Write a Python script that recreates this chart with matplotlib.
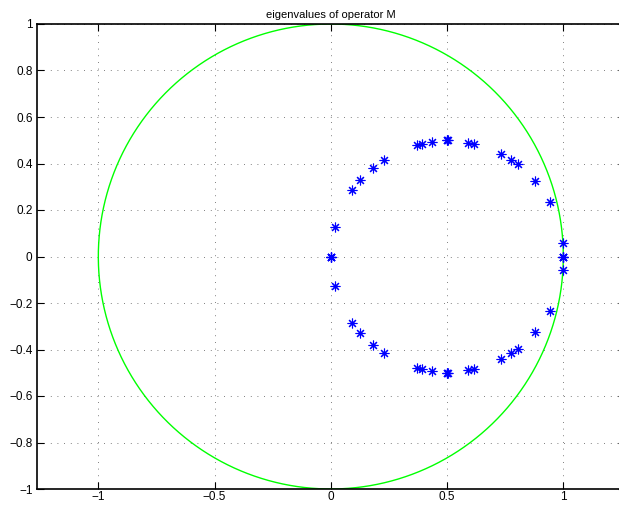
import numpy as np
import matplotlib
matplotlib.use("Agg")
import matplotlib.pyplot as plt

# eigenvalues (upper half; lower half is the conjugate)
eig_re_upper = [0.0, 0.0, 0.019, 0.093, 0.125, 0.181, 0.230, 0.371, 0.391, 0.434,
                0.498, 0.500, 0.502, 0.592, 0.615, 0.731, 0.773, 0.803, 0.879,
                0.941, 0.997, 1.0, 1.0]
eig_im_upper = [0.0, 0.0, 0.129, 0.288, 0.327, 0.381, 0.417, 0.480, 0.486, 0.493,
                0.499, 0.500, 0.499, 0.490, 0.484, 0.442, 0.417, 0.396, 0.325,
                0.235, 0.059, 0.0, 0.0]

title = "eigenvalues of operator M"
x_ticks = [-1, -0.5, 0, 0.5, 1]
y_ticks = [-1, -0.8, -0.6, -0.4, -0.2, 0, 0.2, 0.4, 0.6, 0.8, 1]

plt.rcParams["font.family"] = ["Liberation Sans", "DejaVu Sans"]
plt.rcParams["font.size"] = 8

fig = plt.figure(figsize=(6.19, 5.05), dpi=100)
# axes runs a little past the right edge of the picture, as in the original
xmin, xmax = -1.265, 1.265
unit = 232.5
ax = fig.add_axes([36.7 / 619, 16 / 505, (xmax - xmin) * unit / 619, 2 * unit / 505])

# unit circle
t = np.linspace(0, 2 * np.pi, 400)
ax.plot(np.cos(t), np.sin(t), color="#00ff00", linewidth=1.0)

re = np.array(eig_re_upper + eig_re_upper)
im = np.array(eig_im_upper + [-v for v in eig_im_upper])
ax.plot(re, im, linestyle="none", marker=(8, 2, 0), markersize=7,
        markeredgewidth=0.8, color="#0000ff")

ax.set_xlim(xmin, xmax)
ax.set_ylim(-1, 1)
ax.set_xticks(x_ticks)
ax.set_xticklabels(["\u22121", "\u22120.5", "0", "0.5", "1"])
ax.set_yticks(y_ticks)
ax.set_yticklabels(["\u22121", "\u22120.8", "\u22120.6", "\u22120.4", "\u22120.2",
                    "0", "0.2", "0.4", "0.6", "0.8", "1"])
ax.tick_params(direction="in", length=5, width=0.8, top=True, right=True,
               labelsize=8.5, pad=3)
ax.tick_params(axis="x", pad=1.5)
ax.grid(True, color="#555555", linestyle=(0, (1, 7)), linewidth=0.6)
for spine in ax.spines.values():
    spine.set_linewidth(1.2)
ax.set_title(title, fontsize=8, pad=4)

fig.savefig("out.png", dpi=100)
